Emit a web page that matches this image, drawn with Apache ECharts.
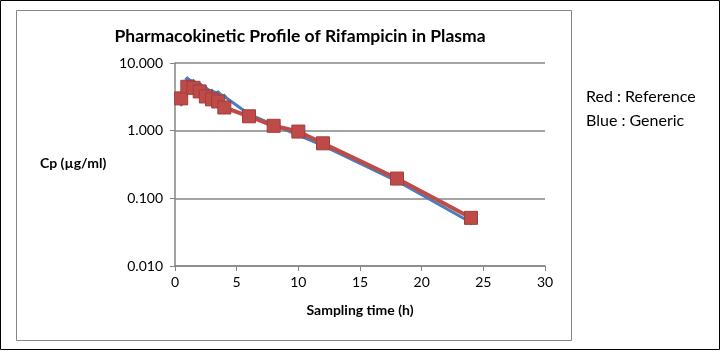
<!DOCTYPE html>
<html>
<head>
<meta charset="utf-8">
<script src="https://cdn.jsdelivr.net/npm/echarts@6/dist/echarts.min.js"></script>
<style>
  html, body { margin: 0; padding: 0; background: #fff; }
  #chart { width: 721px; height: 351px; }
</style>
</head>
<body>
<div id="chart"></div>
<script>
// sampling times (h)
const times = [0.5, 1, 1.5, 2, 2.5, 3, 3.5, 4, 6, 8, 10, 12, 18, 24];
// plasma concentration (µg/ml)
const reference = [3.0, 4.45, 4.3, 3.8, 3.2, 2.9, 2.7, 2.2, 1.63, 1.18, 0.97, 0.65, 0.196, 0.0515];
const generic = [2.5, 5.8, 5.3, 4.8, 4.2, 3.8, 3.6, 3.2, 1.75, 1.22, 0.86, 0.6, 0.18, 0.044];
const xTicks = [0, 5, 10, 15, 20, 25, 30];

const font = "Lato, 'Open Sans', sans-serif";

const chart = echarts.init(document.getElementById("chart"));

const option = {
  backgroundColor: "#fff",
  animation: false,
  title: {
    text: "Pharmacokinetic Profile of Rifampicin in Plasma",
    left: 295,
    top: 22,
    textAlign: "center",
    textStyle: { fontFamily: font, fontSize: 17.5, fontWeight: "bold", color: "#000" },
  },
  grid: { left: 175, right: 176, top: 63, bottom: 85 },
  xAxis: {
    type: "value",
    min: xTicks[0],
    max: xTicks[xTicks.length - 1],
    interval: 5,
    name: "Sampling time (h)",
    nameLocation: "middle",
    nameGap: 37,
    nameTextStyle: { fontFamily: font, fontSize: 14, fontWeight: "bold", color: "#000" },
    axisLine: { lineStyle: { color: "#868686", width: 1.5 } },
    axisTick: { show: true, length: 5, lineStyle: { color: "#868686" } },
    axisLabel: { fontFamily: font, fontSize: 14, color: "#000", margin: 9 },
    splitLine: { show: false },
  },
  yAxis: {
    type: "log",
    logBase: 10,
    min: 0.01,
    max: 10,
    axisLine: { show: true, lineStyle: { color: "#868686", width: 1.5 } },
    axisTick: { show: true, length: 5, lineStyle: { color: "#868686" } },
    axisLabel: {
      fontFamily: font,
      fontSize: 14,
      color: "#000",
      margin: 12,
      formatter: (v) => v.toFixed(3),
    },
    splitLine: { show: true, lineStyle: { color: "#868686", width: 1.5 } },
  },
  graphic: [
    {
      type: "rect",
      shape: { x: 0.5, y: 0.5, width: 719, height: 349 },
      style: { fill: "none", stroke: "#000", lineWidth: 1 },
      silent: true,
    },
    {
      type: "rect",
      shape: { x: 16.5, y: 10.5, width: 555, height: 330 },
      style: { fill: "none", stroke: "#868686", lineWidth: 1 },
      silent: true,
    },
    {
      type: "text",
      left: 40,
      top: 156,
      style: { text: "Cp (µg/ml)", fontFamily: font, fontSize: 14, fontWeight: "bold", fill: "#000" },
    },
    {
      type: "text",
      left: 586,
      top: 89,
      style: { text: "Red : Reference", fontFamily: font, fontSize: 16, fill: "#000" },
    },
    {
      type: "text",
      left: 586,
      top: 113,
      style: { text: "Blue : Generic", fontFamily: font, fontSize: 16, fill: "#000" },
    },
  ],
  series: [
    {
      name: "Generic",
      type: "line",
      data: times.map((t, i) => [t, generic[i]]),
      symbol: "diamond",
      symbolSize: 6,
      lineStyle: { color: "#4a7ebb", width: 3 },
      itemStyle: { color: "#4a7ebb" },
      z: 2,
    },
    {
      name: "Reference",
      type: "line",
      data: times.map((t, i) => [t, reference[i]]),
      symbol: "rect",
      symbolSize: 13,
      lineStyle: { color: "#be4b48", width: 4 },
      itemStyle: { color: "#be4b48", borderColor: "#a03e3b", borderWidth: 1 },
      z: 3,
    },
  ],
};

chart.setOption(option);
</script>
</body>
</html>
